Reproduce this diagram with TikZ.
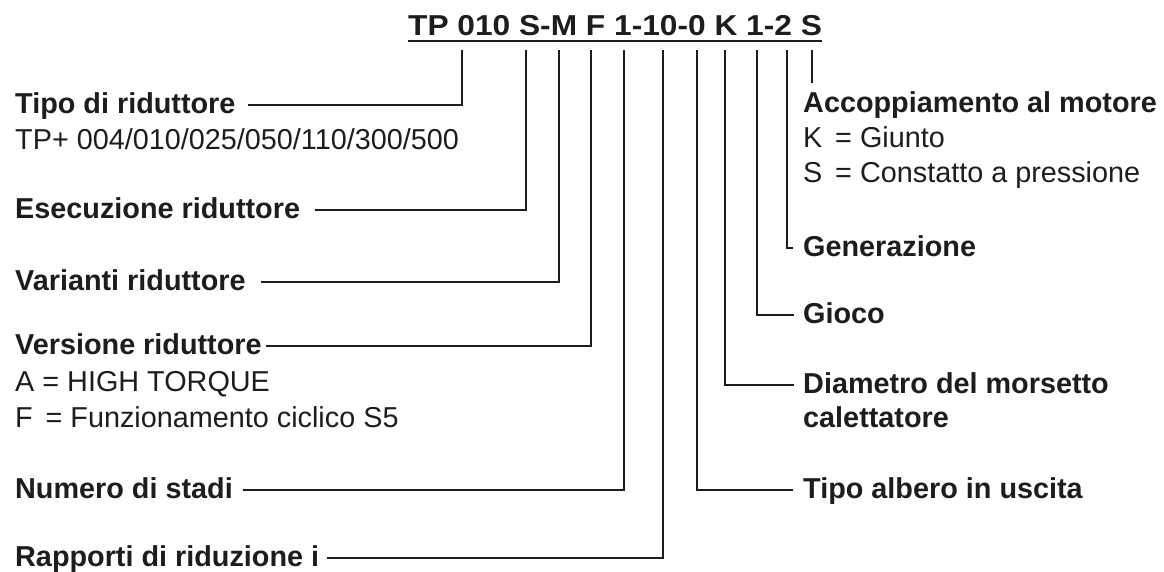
\documentclass[tikz,border=0pt]{standalone}
\usepackage{fontspec}
\setmainfont{Liberation Sans}
\definecolor{ink}{RGB}{30,28,30}
\begin{document}
\begin{tikzpicture}[x=1pt,y=-1pt,
  lbl/.style={anchor=base west, inner sep=0pt, text height=21pt, text depth=5pt,
              font=\fontsize{28.8}{34}\selectfont\bfseries, text=ink},
  sub/.style={anchor=base west, inner sep=0pt,
              font=\fontsize{28.8}{34}\selectfont, text=ink},
  conn/.style={draw=ink, line width=2.2pt}]
\useasboundingbox (0,0) rectangle (1164,571);

% title
\node[anchor=base west, inner sep=0pt, font=\fontsize{28.8}{34}\selectfont\bfseries, text=ink]
  (title) at (408,35) {\scalebox{1.1}[1]{TP 010 S-M F 1-10-0 K 1-2 S}};
\draw[draw=ink, line width=2pt] ([yshift=-6pt]title.base west) -- ([yshift=-6pt]title.base east);

% line tops under the title
\coordinate (tTP)  at (462,50);
\coordinate (tS)   at (526,50);
\coordinate (tM)   at (559,50);
\coordinate (tF)   at (591,50);
\coordinate (tSt)  at (624,50);
\coordinate (tR)   at (663,50);
\coordinate (tA)   at (697,50);
\coordinate (tK)   at (725,50);
\coordinate (tG)   at (757,50);
\coordinate (tGe)  at (787,50);
\coordinate (tMo)  at (812,50);
\coordinate (eMo)  at (812,83);

% left labels
\node[lbl] (lTipo) at (15,113) {Tipo di riduttore};
\node[sub] (sTipo) at (15,149) {TP+ 004/010/025/050/110/300/500};
\node[lbl] (lEsec) at (15,218) {Esecuzione riduttore};
\node[lbl] (lVar)  at (15,290) {Varianti riduttore};
\node[lbl] (lVers) at (15,354) {Versione riduttore};
\node[sub] (sVa)   at (15,391) {A = HIGH TORQUE};
\node[sub] (sVf)   at (15,427) {F \,= Funzionamento ciclico S5};
\node[lbl] (lNum)  at (15,498) {Numero di stadi};
\node[lbl] (lRap)  at (15,566) {Rapporti di riduzione i};

% right labels
\node[lbl] (rMo)   at (803,112) {Accoppiamento al motore};
\node[sub] (sMk)   at (803,147) {K \,= Giunto};
\node[sub] (sMs)   at (803,182) {S \,= Constatto a pressione};
\node[lbl] (rGen)  at (803,256) {Generazione};
\node[lbl] (rGio)  at (803,323) {Gioco};
\node[lbl] (rDia)  at (803,393) {Diametro del morsetto};
\node[lbl] (rDia2) at (803,427) {calettatore};
\node[lbl] (rAlb)  at (803,498) {Tipo albero in uscita};

% connectors, left
\draw[conn] (tTP) |- ([xshift=12pt]lTipo.east);
\draw[conn] (tS)  |- ([xshift=15pt]lEsec.east);
\draw[conn] (tM)  |- ([xshift=15pt]lVar.east);
\draw[conn] (tF)  |- ([xshift=4pt]lVers.east);
\draw[conn] (tSt) |- ([xshift=10pt]lNum.east);
\draw[conn] (tR)  |- ([xshift=8pt]lRap.east);

% connectors, right
\draw[conn] (tMo) -- (eMo);
\draw[conn] (tGe) |- ([xshift=-10pt]rGen.west);
\draw[conn] (tG)  |- ([xshift=-9pt]rGio.west);
\draw[conn] (tK)  |- ([xshift=-9pt]rDia.west);
\draw[conn] (tA)  |- ([xshift=-10pt]rAlb.west);
\end{tikzpicture}
\end{document}
